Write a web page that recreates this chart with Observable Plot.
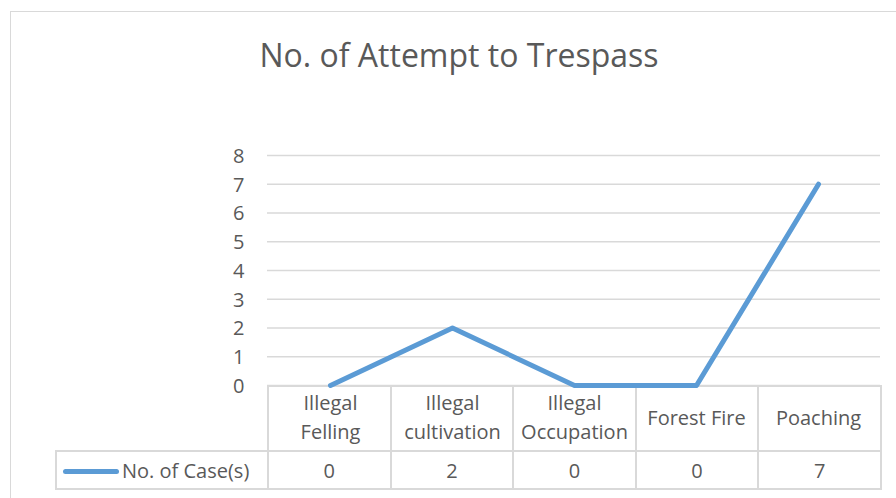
<!DOCTYPE html>
<html>
<head>
<meta charset="utf-8">
<script src="https://cdn.jsdelivr.net/npm/d3@7"></script>
<script src="https://cdn.jsdelivr.net/npm/@observablehq/plot@0.6"></script>
<style>
  body { margin: 0; background: #fff; font-family: "Open Sans", sans-serif; color: #595959; }
  #wrap { position: relative; width: 896px; height: 498px; overflow: hidden; background: #fff; }
  #frame { position: absolute; left: 10px; top: 11px; width: 900px; height: 500px; border: 1.5px solid #d9d9d9; box-sizing: border-box; }
  #title { position: absolute; left: 0; width: 918px; top: 39px; text-align: center; font-size: 32px; line-height: 32px; color: #595959; white-space: nowrap; }
  #plot { position: absolute; left: 0; top: 0; z-index: 2; }
  #plot svg { background: transparent; }
  table { position: absolute; border-collapse: collapse; table-layout: fixed; font-size: 20px; color: #595959; z-index: 1; }
  td { border: 2px solid #d9d9d9; padding: 0; text-align: center; vertical-align: middle; white-space: nowrap; }
  td.blank { border: none; }
  td.legend { text-align: left; padding-left: 6px; }
  .swatch { display: inline-block; width: 56px; height: 5px; border-radius: 3px; background: #5b9bd5; vertical-align: middle; margin-right: 3px; position: relative; top: -1px; }
</style>
</head>
<body>
<div id="wrap">
  <div id="frame"></div>
  <div id="title">No. of Attempt to Trespass</div>
  <div id="plot"></div>
</div>
<script>
const titleText = "No. of Attempt to Trespass";
const categories = ["Illegal Felling", "Illegal cultivation", "Illegal Occupation", "Forest Fire", "Poaching"];
const categoryLabels = ["Illegal\nFelling", "Illegal\ncultivation", "Illegal\nOccupation", "Forest Fire", "Poaching"];
const cases = [0, 2, 0, 0, 7];
const seriesName = "No. of Case(s)";
const yTicks = [0, 1, 2, 3, 4, 5, 6, 7, 8];
const lineColor = "#5b9bd5";

const data = categories.map((c, i) => ({category: c, value: cases[i]}));
const labelOf = new Map(categories.map((c, i) => [c, categoryLabels[i]]));

const chart = Plot.plot({
  width: 896,
  height: 451,
  marginTop: 155,
  marginBottom: 66,
  marginLeft: 267,
  marginRight: 16,
  style: {background: "transparent", fontFamily: "Open Sans", fontSize: "20px", color: "#595959"},
  x: {type: "point", domain: categories, padding: 0.5, label: null},
  y: {domain: [0, 8], label: null},
  marks: [
    Plot.gridY(yTicks, {stroke: "#d9d9d9", strokeOpacity: 1, strokeWidth: 1.6}),
    Plot.axisY(yTicks, {tickSize: 0, tickPadding: 23, fill: "#595959", fontSize: 20, dy: 1, tickFormat: d => String(d)}),
    Plot.axisX({tickSize: 0, tickPadding: 30, lineAnchor: "middle", lineHeight: 1.415, fill: "#595959", fontSize: 20, tickFormat: d => labelOf.get(d)}),
    Plot.line(data, {x: "category", y: "value", stroke: lineColor, strokeWidth: 5, strokeLinecap: "round", strokeLinejoin: "round"})
  ]
});
document.getElementById("plot").appendChild(chart);

// Data table below the plot, aligned with the x scale
const sx = chart.scale("x");
const sy = chart.scale("y");
const [r0, r1] = sx.range;
const colW = (r1 - r0) / categories.length;
const legendW = 212;
const table = document.createElement("table");
table.style.left = (r0 - legendW) + "px";
table.style.top = sy.apply(0) + "px";
table.style.width = (legendW + colW * categories.length) + "px";
const colgroup = document.createElement("colgroup");
[legendW, ...categories.map(() => colW)].forEach(w => {
  const col = document.createElement("col");
  col.style.width = w + "px";
  colgroup.appendChild(col);
});
table.appendChild(colgroup);
const tr1 = document.createElement("tr");
const blank = document.createElement("td");
blank.className = "blank";
blank.style.height = "64px";
tr1.appendChild(blank);
categories.forEach(() => { const td = document.createElement("td"); tr1.appendChild(td); });
table.appendChild(tr1);
const tr2 = document.createElement("tr");
const leg = document.createElement("td");
leg.className = "legend";
leg.style.height = "36px";
leg.innerHTML = '<span class="swatch"></span>';
leg.appendChild(document.createTextNode(seriesName));
tr2.appendChild(leg);
cases.forEach(v => { const td = document.createElement("td"); td.textContent = String(v); tr2.appendChild(td); });
table.appendChild(tr2);
document.getElementById("wrap").appendChild(table);
</script>
</body>
</html>
